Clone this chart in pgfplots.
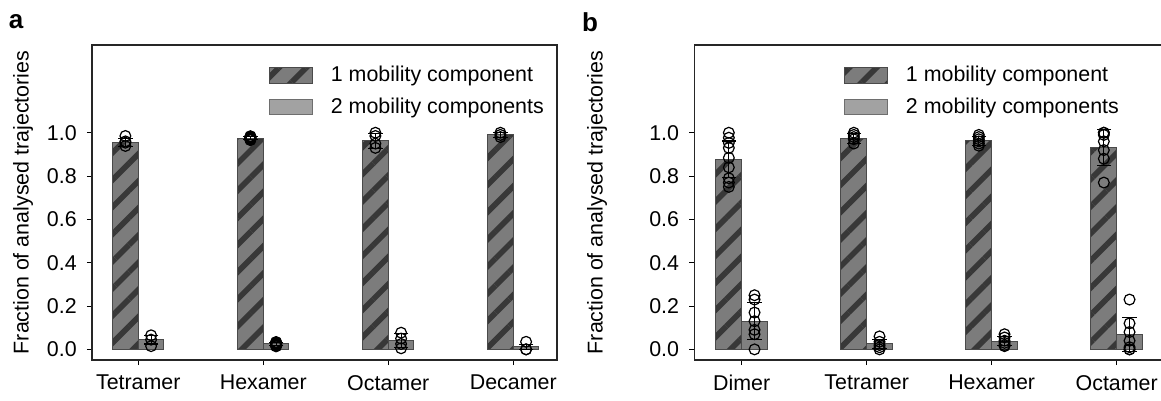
\documentclass[border=0pt]{standalone}
\usepackage{pgfplots}
\pgfplotsset{compat=1.18}
\usepackage{pgfplotstable}
\usetikzlibrary{patterns.meta}
\usepackage{fontspec}
\setmainfont{Liberation Sans}

\definecolor{oneBg}{HTML}{7C7C7C}
\definecolor{oneStripe}{HTML}{383838}
\definecolor{twoBg}{HTML}{808080}
\definecolor{twoLeg}{HTML}{A2A2A2}
\definecolor{barEdge}{HTML}{4A4A4A}

% bar heights and error half-widths: cat, one component, two components
\pgfplotstableread{
cat one   eone  two   etwo
0   0.955 0.020 0.045 0.020
1   0.975 0.006 0.025 0.006
2   0.963 0.035 0.040 0.032
3   0.990 0.011 0.012 0.012
}\barsA
\pgfplotstableread{
cat one   eone  two   etwo
0   0.877 0.085 0.130 0.085
1   0.975 0.023 0.025 0.021
2   0.963 0.021 0.038 0.020
3   0.931 0.083 0.069 0.078
}\barsB

% individual measurements
\pgfplotstableread{
cat val
0 0.985
0 0.960
0 0.954
0 0.939
1 0.966
1 0.968
1 0.970
1 0.972
1 0.974
1 0.975
1 0.976
1 0.978
1 0.980
1 0.982
1 0.984
2 1.000
2 0.985
2 0.950
2 0.930
3 1.000
3 0.990
3 0.980
}\ptsAone
\pgfplotstableread{
cat val
0 0.065
0 0.045
0 0.015
1 0.014
1 0.016
1 0.018
1 0.020
1 0.022
1 0.024
1 0.025
1 0.026
1 0.028
1 0.030
1 0.032
1 0.034
2 0.077
2 0.050
2 0.025
2 0.005
3 0.035
3 0.000
3 0.000
}\ptsAtwo
\pgfplotstableread{
cat val
0 1.000
0 0.977
0 0.953
0 0.930
0 0.884
0 0.840
0 0.790
0 0.770
0 0.750
1 1.000
1 0.990
1 0.980
1 0.970
1 0.950
2 0.990
2 0.980
2 0.970
2 0.960
2 0.950
2 0.940
3 1.000
3 1.000
3 0.990
3 0.960
3 0.920
3 0.880
3 0.770
}\ptsBone
\pgfplotstableread{
cat val
0 0.250
0 0.230
0 0.170
0 0.130
0 0.090
0 0.070
0 0.000
1 0.060
1 0.035
1 0.020
1 0.010
1 0.000
2 0.070
2 0.055
2 0.040
2 0.030
2 0.020
2 0.015
3 0.230
3 0.120
3 0.080
3 0.040
3 0.010
3 0.000
3 0.000
}\ptsBtwo

\tikzset{
  oneBar/.style={draw=barEdge, line width=0.5pt, fill=oneBg,
    postaction={pattern={Lines[angle=45,distance=9.6pt,line width=2.8pt]}, pattern color=oneStripe}},
  twoBar/.style={draw=barEdge, line width=0.5pt, fill=twoBg},
  twoLegBar/.style={draw=barEdge!80, line width=0.5pt, fill=twoLeg},
}

\pgfplotsset{
  panel/.style={
    scale only axis,
    height=157.5pt,
    ymin=-0.049, ymax=1.405,
    axis line style={draw=black!85, line width=0.65pt},
    tick pos=left,
    tick align=outside,
    major tick length=2.6pt,
    tick style={black, line width=0.55pt},
    ytick={0,0.2,0.4,0.6,0.8,1.0},
    yticklabel style={xshift=-1.5pt, /pgf/number format/.cd, fixed, fixed zerofill, precision=1},
    xticklabel style={yshift=-1.5pt},
    /pgf/number format/assume math mode=true,
    xtick={0,1,2,3},
    ylabel={Fraction of analysed trajectories},
    legend image code/.code={\path[##1] (0pt,-3.9pt) rectangle (21.4pt,3.9pt);},
    legend style={draw=none, fill=none, inner sep=0pt, row sep=4.4pt,
      nodes={inner sep=1pt}, cells={anchor=west},
      /tikz/every odd column/.append style={column sep=8pt}},
    legend cell align=left,
    clip=false,
  },
  % vertical whiskers (mean +- error)
  errs/.style={draw=none, mark=none, forget plot,
    error bars/.cd, y dir=both, y explicit, error mark=none,
    error bar style={draw=black, line width=0.55pt}},
  % horizontal whisker caps
  caps/.style={only marks, mark=-, forget plot,
    mark options={draw=black, line width=0.55pt}, mark size=3.6pt},
  dots/.style={only marks, mark=o, forget plot,
    mark options={black, line width=0.6pt}, mark size=2.7pt},
}

\begin{document}
\begin{tikzpicture}[font=\fontsize{10.7pt}{12.5pt}\selectfont]

% panel a
\begin{axis}[panel, at={(46pt,20.5pt)}, anchor=south west,
  width=232.5pt, xmin=-0.37, xmax=3.35,
  xticklabels={Tetramer,Hexamer,Octamer,Decamer},
  ylabel style={at={(axis description cs:-0.148,0.5)}, anchor=center},
  legend style={at={(axis description cs:0.38,0.94)}, anchor=north west}]
\addlegendimage{oneBar}
\addlegendimage{twoLegBar}
\addplot[ybar, bar width=0.2056, bar shift=0pt, oneBar, forget plot]
  table[x expr=\thisrow{cat}-0.1028, y=one] {\barsA};
\addplot[ybar, bar width=0.2056, bar shift=0pt, twoBar, forget plot]
  table[x expr=\thisrow{cat}+0.1028, y=two] {\barsA};
\addplot[errs] table[x expr=\thisrow{cat}-0.1028, y=one, y error=eone] {\barsA};
\addplot[errs] table[x expr=\thisrow{cat}+0.1028, y=two, y error=etwo] {\barsA};
\addplot[caps] table[x expr=\thisrow{cat}-0.1028, y expr=\thisrow{one}+\thisrow{eone}] {\barsA};
\addplot[caps] table[x expr=\thisrow{cat}-0.1028, y expr=\thisrow{one}-\thisrow{eone}] {\barsA};
\addplot[caps] table[x expr=\thisrow{cat}+0.1028, y expr=\thisrow{two}+\thisrow{etwo}] {\barsA};
\addplot[caps] table[x expr=\thisrow{cat}+0.1028, y expr=\thisrow{two}-\thisrow{etwo}] {\barsA};
\addplot[dots] table[x expr=\thisrow{cat}-0.1028, y=val] {\ptsAone};
\addplot[dots] table[x expr=\thisrow{cat}+0.1028, y=val] {\ptsAtwo};
\legend{1 mobility component, 2 mobility components}
\end{axis}

% panel b
\begin{axis}[panel, at={(347.15pt,20.5pt)}, anchor=south west,
  width=235pt, xmin=-0.379, xmax=3.381,
  xticklabels={Dimer,Tetramer,Hexamer,Octamer},
  ylabel style={at={(axis description cs:-0.207,0.5)}, anchor=center},
  legend style={at={(axis description cs:0.318,0.94)}, anchor=north west}]
\addlegendimage{oneBar}
\addlegendimage{twoLegBar}
\addplot[ybar, bar width=0.2056, bar shift=0pt, oneBar, forget plot]
  table[x expr=\thisrow{cat}-0.1028, y=one] {\barsB};
\addplot[ybar, bar width=0.2056, bar shift=0pt, twoBar, forget plot]
  table[x expr=\thisrow{cat}+0.1028, y=two] {\barsB};
\addplot[errs] table[x expr=\thisrow{cat}-0.1028, y=one, y error=eone] {\barsB};
\addplot[errs] table[x expr=\thisrow{cat}+0.1028, y=two, y error=etwo] {\barsB};
\addplot[caps] table[x expr=\thisrow{cat}-0.1028, y expr=\thisrow{one}+\thisrow{eone}] {\barsB};
\addplot[caps] table[x expr=\thisrow{cat}-0.1028, y expr=\thisrow{one}-\thisrow{eone}] {\barsB};
\addplot[caps] table[x expr=\thisrow{cat}+0.1028, y expr=\thisrow{two}+\thisrow{etwo}] {\barsB};
\addplot[caps] table[x expr=\thisrow{cat}+0.1028, y expr=\thisrow{two}-\thisrow{etwo}] {\barsB};
\addplot[dots] table[x expr=\thisrow{cat}-0.1028, y=val] {\ptsBone};
\addplot[dots] table[x expr=\thisrow{cat}+0.1028, y=val] {\ptsBtwo};
\legend{1 mobility component, 2 mobility components}
\end{axis}

% panel letters
\node[font=\bfseries\fontsize{13pt}{15pt}\selectfont] at (8pt,189.5pt) {a};
\node[font=\bfseries\fontsize{13pt}{15pt}\selectfont] at (295pt,189.5pt) {b};

\pgfresetboundingbox
\path (0pt,0pt) rectangle (580.5pt,200.5pt);
\end{tikzpicture}
\end{document}
